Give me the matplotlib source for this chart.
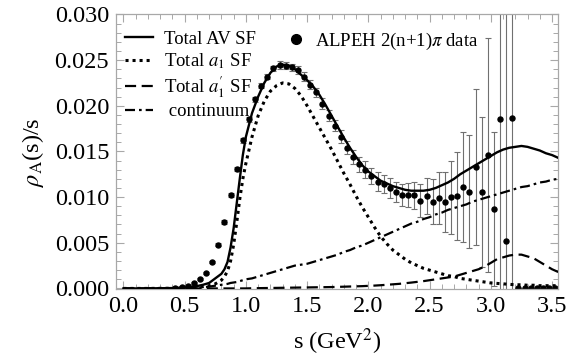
import numpy as np
import matplotlib
matplotlib.use("Agg")
import matplotlib.pyplot as plt
from matplotlib.lines import Line2D
from matplotlib.ticker import MultipleLocator

plt.rcParams["font.family"] = ["Liberation Serif", "DejaVu Serif"]
plt.rcParams["mathtext.fontset"] = "stix"

# ---- ALEPH data points ----
data_s = [0.425, 0.475, 0.525, 0.575, 0.625, 0.675, 0.725, 0.775, 0.825, 0.875,
          0.925, 0.975, 1.025, 1.075, 1.125, 1.175, 1.225, 1.275, 1.325, 1.375,
          1.425, 1.475, 1.525, 1.575, 1.625, 1.675, 1.725, 1.775, 1.825, 1.875,
          1.925, 1.975, 2.025, 2.075, 2.125, 2.175, 2.225, 2.275, 2.325, 2.375,
          2.425, 2.475, 2.525, 2.575, 2.625, 2.675, 2.725, 2.775, 2.825, 2.875,
          2.925, 2.975, 3.025, 3.075, 3.125, 3.175, 3.225, 3.275, 3.325, 3.375,
          3.425, 3.475, 3.525]
data_val = [0.0001, 0.0002, 0.0003, 0.00055, 0.00105, 0.0017, 0.0029, 0.0048, 0.0073, 0.0102,
            0.0131, 0.0162, 0.0185, 0.0207, 0.0222, 0.0232, 0.0241, 0.02445, 0.0244, 0.0242,
            0.0239, 0.0232, 0.0223, 0.0215, 0.0202, 0.0189, 0.0178, 0.0166, 0.0154, 0.0144,
            0.0136, 0.0130, 0.0123, 0.0117, 0.0114, 0.0110, 0.0106, 0.0102, 0.0102, 0.0102,
            0.0096, 0.0101, 0.0095, 0.0099, 0.0095, 0.0100, 0.0101, 0.0111, 0.0106, 0.0133,
            0.0106, 0.0146, 0.0087, 0.0186, 0.0052, 0.0187, 0.0, 0.0, 0.0, 0.0,
            0.0, 0.0, 0.0]
data_err = [0.0001, 0.0001, 0.0001, 0.0001, 0.0001, 0.0001, 0.0001, 0.0002, 0.0002, 0.0002,
            0.0002, 0.0003, 0.0003, 0.0003, 0.0003, 0.0003, 0.0003, 0.0004, 0.0004, 0.0004,
            0.0004, 0.0005, 0.0005, 0.0005, 0.0006, 0.0006, 0.0006, 0.0007, 0.0007, 0.0008,
            0.0008, 0.0009, 0.0009, 0.0010, 0.0010, 0.0011, 0.0011, 0.0012, 0.0013, 0.0015,
            0.0018, 0.0020, 0.0025, 0.0028, 0.0033, 0.0040, 0.0048, 0.0060, 0.0062, 0.0085,
            0.0082, 0.0128, 0.0084, 0.0200, 0.0300, 0.0200, 0.0, 0.0, 0.0, 0.0,
            0.0, 0.0, 0.0]

# ---- model curves ----
curve_s = [0.0, 0.1, 0.2, 0.3, 0.4, 0.5, 0.55, 0.6, 0.65, 0.7, 0.75, 0.8,
           0.825, 0.85, 0.875, 0.9, 0.925, 0.95, 0.975,
           1.0, 1.05, 1.1, 1.15, 1.2, 1.25, 1.3, 1.35, 1.4, 1.45, 1.5, 1.55,
           1.6, 1.65, 1.7, 1.75, 1.8, 1.85, 1.9, 1.95, 2.0, 2.05, 2.1, 2.15,
           2.2, 2.25, 2.3, 2.35, 2.4, 2.45, 2.5, 2.55, 2.6, 2.65, 2.7, 2.75,
           2.8, 2.85, 2.9, 2.95, 3.0, 3.05, 3.1, 3.15, 3.2, 3.25, 3.3, 3.35,
           3.4, 3.45, 3.5, 3.55]
total_av = [0.0, 0.0, 0.00001, 0.00002, 0.00004, 0.0001, 0.00015, 0.00025, 0.0004, 0.0006, 0.0011, 0.0016,
            0.0021, 0.0029, 0.0045, 0.0066, 0.0093, 0.0120, 0.0146,
            0.0166, 0.0192, 0.0210, 0.0225, 0.0236, 0.0243, 0.0245, 0.0244, 0.0240, 0.0234, 0.0228, 0.0221,
            0.0212, 0.0201, 0.0189, 0.0177, 0.0165, 0.0154, 0.0144, 0.0135, 0.0128, 0.0123, 0.0118, 0.0115,
            0.0112, 0.0110, 0.0108, 0.0107, 0.0107, 0.0107, 0.0108, 0.0110, 0.0113, 0.0116, 0.0120, 0.0125,
            0.0129, 0.0133, 0.0137, 0.0141, 0.0145, 0.0149, 0.0152, 0.0154, 0.0155, 0.0156, 0.0155, 0.0153,
            0.0151, 0.0148, 0.0146, 0.0143]
total_a1 = [0.0, 0.0, 0.0, 0.00001, 0.00002, 0.00005, 0.00008, 0.00012, 0.0002, 0.0003, 0.0005, 0.0009,
            0.0013, 0.0019, 0.0030, 0.0048, 0.0072, 0.0098, 0.0120,
            0.0137, 0.0166, 0.0189, 0.0205, 0.0216, 0.0222, 0.0225, 0.0224, 0.0219, 0.0211, 0.0200, 0.0188,
            0.0176, 0.0164, 0.0152, 0.0139, 0.0126, 0.0114, 0.0101, 0.0089, 0.0078, 0.0067, 0.0057, 0.0049,
            0.0042, 0.0037, 0.0032, 0.0028, 0.0025, 0.0022, 0.0020, 0.0018, 0.0016, 0.0014, 0.0013, 0.0011,
            0.0010, 0.0009, 0.0008, 0.0007, 0.0006, 0.00055, 0.0005, 0.00045, 0.0004, 0.0004, 0.00035, 0.00035,
            0.0003, 0.0003, 0.0003, 0.0003]
total_a1p = [0.0, 0.0, 0.0, 0.0, 0.0, 0.0, 0.0, 0.0, 0.0, 0.0, 0.0, 0.0,
             0.0, 0.0, 0.0, 0.0, 0.0, 0.0, 0.0,
             0.0, 0.00002, 0.00003, 0.00004, 0.00005, 0.00006, 0.00007, 0.00008, 0.00009, 0.0001, 0.00011, 0.00012,
             0.00013, 0.00014, 0.00015, 0.00017, 0.00019, 0.00021, 0.00023, 0.00025, 0.00028, 0.00031, 0.00035, 0.0004,
             0.00045, 0.0005, 0.00057, 0.00064, 0.00072, 0.0008, 0.0009, 0.0010, 0.0011, 0.0012, 0.0013, 0.0015,
             0.0017, 0.0019, 0.0021, 0.0024, 0.0028, 0.0032, 0.0034, 0.0036, 0.0037, 0.0037, 0.0035, 0.0033,
             0.0029, 0.0025, 0.0021, 0.0018]
continuum = [0.0, 0.0, 0.0, 0.0, 0.0, 0.00002, 0.00004, 0.00007, 0.00012, 0.0002, 0.0003, 0.0004,
             0.00045, 0.0005, 0.0006, 0.00065, 0.0007, 0.0008, 0.0009,
             0.0010, 0.0011, 0.0013, 0.0015, 0.0017, 0.0019, 0.0021, 0.0023, 0.0025, 0.0026, 0.0027, 0.0029,
             0.0031, 0.0033, 0.0035, 0.0037, 0.0040, 0.0042, 0.0045, 0.0047, 0.0050, 0.0053, 0.0056, 0.0059,
             0.0062, 0.0065, 0.0068, 0.0071, 0.0073, 0.0076, 0.0078, 0.0081, 0.0083, 0.0086, 0.0088, 0.0090,
             0.0092, 0.0095, 0.0097, 0.0099, 0.0101, 0.0103, 0.0105, 0.0107, 0.0109, 0.0111, 0.0112, 0.0114,
             0.0116, 0.0117, 0.0119, 0.0120]

# ---- styles ----
ls_dot = (0, (1, 1.3))
ls_long = (0, (5, 2.5))
ls_dashdot = (0, (4.5, 1.8, 1.2, 1.8))

fig = plt.figure(figsize=(5.69, 3.61), dpi=100)
ax = fig.add_axes([0.204, 0.199, 0.777, 0.761])

ax.errorbar(data_s, data_val, yerr=data_err, fmt="o", color="black", ms=3.6,
            ecolor="#707070", elinewidth=0.8, capsize=2.2, capthick=0.8, zorder=2)

ax.plot(curve_s, total_av, color="black", lw=1.7, zorder=3)
ax.plot(curve_s, total_a1, color="black", lw=2.2, linestyle=ls_dot, zorder=3)
ax.plot(curve_s, total_a1p, color="black", lw=1.6, linestyle=ls_long, zorder=3)
ax.plot(curve_s, continuum, color="black", lw=1.6, linestyle=ls_dashdot, zorder=3)

ax.set_xlim(-0.06, 3.55)
ax.set_ylim(-0.00008, 0.030)
ax.xaxis.set_major_locator(MultipleLocator(0.5))
ax.xaxis.set_minor_locator(MultipleLocator(0.1))
ax.yaxis.set_major_locator(MultipleLocator(0.005))
ax.yaxis.set_minor_locator(MultipleLocator(0.001))
ax.xaxis.set_major_formatter(matplotlib.ticker.FormatStrFormatter("%.1f"))
ax.yaxis.set_major_formatter(matplotlib.ticker.FormatStrFormatter("%.3f"))

for sp in ax.spines.values():
    sp.set_color("#a8a8a8")
    sp.set_linewidth(0.9)
ax.tick_params(which="both", direction="in", top=True, right=True,
               color="#a8a8a8", labelsize=17.5)
ax.tick_params(which="major", length=6, width=0.8, pad=5)
ax.tick_params(which="minor", length=3.5, width=0.7)

ax.set_xlabel("s (GeV$^2$)", fontsize=17.5, labelpad=7)
ax.set_ylabel(r"$\rho_{\mathrm{A}}$(s)/s", fontsize=17.5, labelpad=6)

# ---- legends ----
h1 = [Line2D([], [], color="black", lw=1.7),
      Line2D([], [], color="black", lw=2.2, linestyle=ls_dot),
      Line2D([], [], color="black", lw=1.6, linestyle=ls_long),
      Line2D([], [], color="black", lw=1.6, linestyle=ls_dashdot)]
l1 = ["Total AV SF", r"Total $a_1$ SF", r"Total $a_1^{\prime}$ SF", " continuum"]
leg1 = ax.legend(h1, l1, loc="upper left", bbox_to_anchor=(0.0, 0.975), frameon=False,
                 fontsize=13.5, handlelength=1.45, handletextpad=0.6,
                 labelspacing=0.18, borderaxespad=0.2, borderpad=0.3)
ax.add_artist(leg1)
h2 = [Line2D([], [], color="black", marker="o", ms=7, linestyle="none")]
ax.legend(h2, [r"ALPEH 2(n+1)$\pi$ data"], loc="upper left",
          bbox_to_anchor=(0.365, 0.975), frameon=False, fontsize=13.5,
          handlelength=1.0, handletextpad=0.5, borderaxespad=0.2, borderpad=0.3)

fig.savefig("out.png", dpi=100)
